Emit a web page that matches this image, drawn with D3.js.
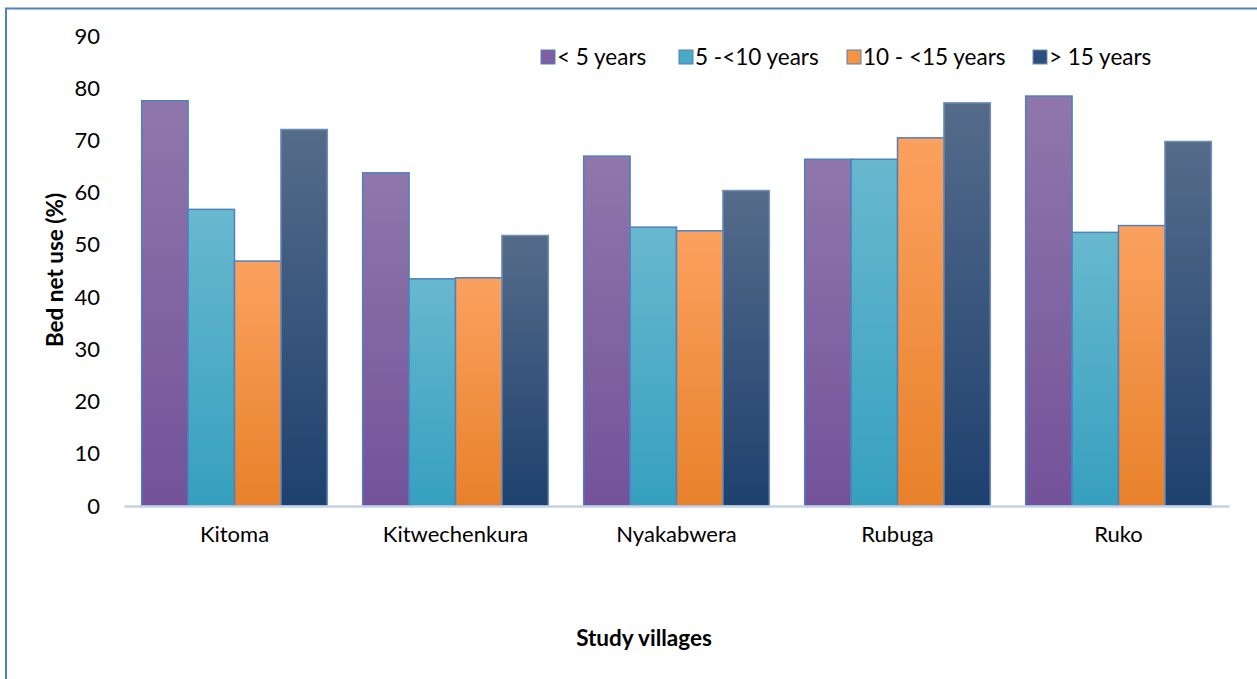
<!DOCTYPE html>
<html>
<head>
<meta charset="utf-8">
<script src="https://cdn.jsdelivr.net/npm/d3@7"></script>
<style>
  html, body { margin: 0; padding: 0; background: #ffffff; }
  svg { display: block; }
  text { font-family: Lato, "Open Sans", "Liberation Sans", sans-serif; fill: #000; }
</style>
</head>
<body>
<svg id="chart" width="1257" height="679"></svg>
<script>
const categories = ["Kitoma", "Kitwechenkura", "Nyakabwera", "Rubuga", "Ruko"];
const seriesNames = ["< 5 years", "5 -<10 years", "10 - <15 years", "> 15 years"];
const under5 = [77.6, 63.8, 67.0, 66.4, 78.5];
const from5to10 = [56.8, 43.5, 53.4, 66.4, 52.4];
const from10to15 = [46.9, 43.7, 52.7, 70.5, 53.7];
const over15 = [72.1, 51.8, 60.4, 77.2, 69.8];
const yTicks = [0, 10, 20, 30, 40, 50, 60, 70, 80, 90];
const xTitle = "Study villages";
const yTitle = "Bed net use (%)";

const seriesValues = [under5, from5to10, from10to15, over15];
const gradStops = [
  ["#8f77ab", "#73529a"],
  ["#68b8cf", "#36a0bf"],
  ["#fba15f", "#e8812a"],
  ["#556b8a", "#1e416f"]
];
const legendSwatch = ["#7e5fa2", "#4aaac6", "#f79443", "#2c4f7c"];
const strokes = ["#4f81bd", "#4f81bd", "#4f81bd", "#6f8fb5"];

const svg = d3.select("#chart");
const margin = { left: 124, right: 1229, top: 36, bottom: 506 };

// frame
svg.append("rect")
  .attr("x", 6).attr("y", 8.5)
  .attr("width", 1300).attr("height", 700)
  .attr("fill", "none").attr("stroke", "#4f81bd").attr("stroke-width", 2);

const defs = svg.append("defs");
gradStops.forEach((g, i) => {
  const lg = defs.append("linearGradient").attr("id", "g" + i)
    .attr("x1", 0).attr("y1", 0).attr("x2", 0).attr("y2", 1);
  lg.append("stop").attr("offset", "0%").attr("stop-color", g[0]);
  lg.append("stop").attr("offset", "100%").attr("stop-color", g[1]);
});

const x0 = d3.scaleBand().domain(categories)
  .range([margin.left, margin.right]).paddingInner(0.16).paddingOuter(0.08);
const x1 = d3.scaleBand().domain(d3.range(seriesNames.length))
  .range([0, x0.bandwidth()]).padding(0);
const y = d3.scaleLinear().domain([0, 90]).range([margin.bottom, margin.top]);

// y tick labels
const yAxis = d3.axisLeft(y).tickValues(yTicks).tickSize(0).tickPadding(0);
const yg = svg.append("g").attr("transform", "translate(100,0)").call(yAxis);
yg.select(".domain").remove();
yg.selectAll("text").attr("font-size", 22).attr("font-family", "Lato, sans-serif").attr("fill", "#000");

// bars
categories.forEach((c, ci) => {
  seriesValues.forEach((vals, si) => {
    const v = vals[ci];
    svg.append("rect")
      .attr("x", x0(c) + x1(si))
      .attr("y", y(v))
      .attr("width", x1.bandwidth())
      .attr("height", y(0) - y(v))
      .attr("fill", "url(#g" + si + ")")
      .attr("stroke", strokes[si])
      .attr("stroke-width", 1.5);
  });
});

// x axis
const xAxis = d3.axisBottom(x0).tickSize(0).tickPadding(20);
const xg = svg.append("g").attr("transform", "translate(0," + y(0) + ")").call(xAxis);
xg.select(".domain").attr("stroke", "#c3d3e8").attr("stroke-width", 2.5);
xg.selectAll("text").attr("font-size", 22).attr("font-family", "Lato, sans-serif").attr("fill", "#000");

// axis titles
svg.append("text")
  .attr("x", 644).attr("y", 646)
  .attr("text-anchor", "middle")
  .attr("font-size", 22.5).attr("font-weight", "bold")
  .text(xTitle);
svg.append("text")
  .attr("transform", "translate(63,270) rotate(-90)")
  .attr("text-anchor", "middle")
  .attr("font-size", 22.5).attr("font-weight", "bold")
  .text(yTitle);

// legend
const legendX = [541, 679, 847, 1033];
const lg = svg.append("g");
seriesNames.forEach((n, i) => {
  lg.append("rect")
    .attr("x", legendX[i]).attr("y", 50)
    .attr("width", 14).attr("height", 14)
    .attr("fill", legendSwatch[i])
    .attr("stroke", strokes[i]).attr("stroke-width", 1);
  lg.append("text")
    .attr("x", legendX[i] + 16).attr("y", 65)
    .attr("font-size", 22.5)
    .text(n);
});
</script>
</body>
</html>
